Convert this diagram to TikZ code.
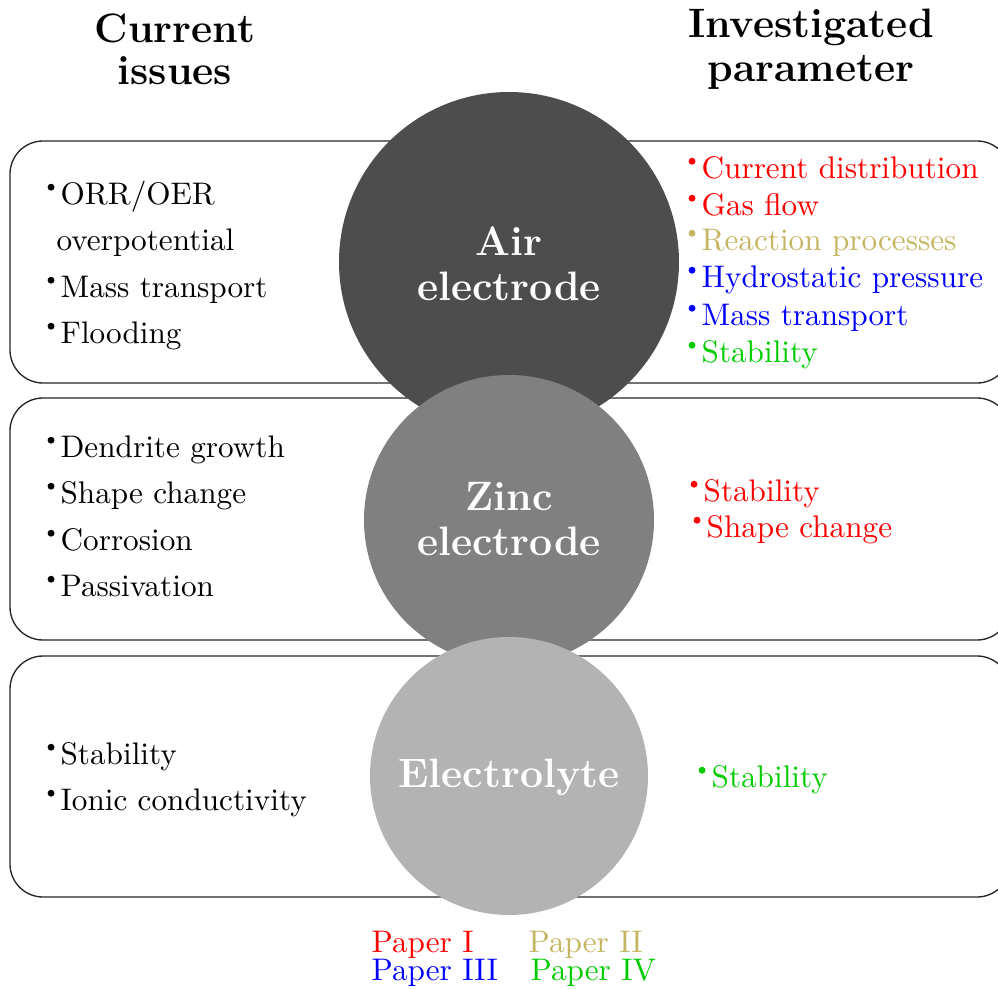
\documentclass[tikz,border=0pt]{standalone}
\usetikzlibrary{positioning}
\definecolor{airgray}{RGB}{77,77,77}
\definecolor{zincgray}{RGB}{128,128,128}
\definecolor{elecgray}{RGB}{179,179,179}
\definecolor{pI}{RGB}{255,0,0}
\definecolor{pII}{RGB}{196,181,96}
\definecolor{pIII}{RGB}{0,0,255}
\definecolor{pIV}{RGB}{0,204,0}
% small raised dot in front of each list entry
\newcommand{\bul}{\raisebox{4.45pt}{\tikz\fill (0,0) circle (1.15pt);}\hspace{2.05pt}}
\tikzset{
  panel/.style={draw=black!85, line width=0.45pt, rounded corners=11pt,
    minimum width=333.33pt, inner sep=0},
  disc/.style={circle, inner sep=0, draw=none},
  item/.style={anchor=base west, inner sep=0, font=\fontsize{10.4}{12}\selectfont},
  heading/.style={anchor=base, inner sep=0, font=\fontsize{13.7}{15}\selectfont\bfseries},
  disclabel/.style={anchor=base, inner sep=0, text=white,
    font=\fontsize{13.7}{15}\selectfont\bfseries},
}
\begin{document}
\begin{tikzpicture}[x=0.33333pt, y=-0.33333pt]
\useasboundingbox (0,0) rectangle (998,989);
\clip (0,0) rectangle (998,989);

% column headings
\node[heading] (hcur1) at (175,42) {Current};
\node[heading] (hcur2) at (175,85) {issues};
\node[heading] (hinv1) at (811,38) {Investigated};
\node[heading] (hinv2) at (811,81) {parameter};

% three panels, one per component
\node[panel, minimum height=80.67pt] (p1) at (510,262) {};
\node[panel, minimum height=80.67pt] (p2) at (510,519) {};
\node[panel, minimum height=80.33pt] (p3) at (510,776.5) {};

% component discs
\node[disc, fill=airgray, minimum size=113.33pt] (air) at (509,262) {};
\node[disc, fill=zincgray, minimum size=96.67pt] (zinc) at (509,520) {};
\node[disc, fill=elecgray, minimum size=92.67pt] (elec) at (509,776) {};

\node[disclabel] (airA) at (509,255) {Air};
\node[disclabel] (airB) at (509,300) {electrode};
\node[disclabel] (zincA) at (509,510) {Zinc};
\node[disclabel] (zincB) at (509,555) {electrode};
\node[disclabel] (elecA) at (509,787) {Electrolyte};

% current issues
\node[item] (i11) at (47,204) {\bul ORR/OER};
\node[item] (i12) at (56,250) {overpotential};
\node[item] (i13) at (47,297) {\bul Mass transport};
\node[item] (i14) at (47,343) {\bul Flooding};

\node[item] (i21) at (47,457) {\bul Dendrite growth};
\node[item] (i22) at (47,503) {\bul Shape change};
\node[item] (i23) at (47,550) {\bul Corrosion};
\node[item] (i24) at (47,596) {\bul Passivation};

\node[item] (i31) at (47,764) {\bul Stability};
\node[item] (i32) at (47,810) {\bul Ionic conductivity};

% investigated parameters
\node[item, text=pI]   (r11) at (688,178) {\bul Current distribution};
\node[item, text=pI]   (r12) at (688,215) {\bul Gas flow};
\node[item, text=pII]  (r13) at (688,250) {\bul Reaction processes};
\node[item, text=pIII] (r14) at (688,287) {\bul Hydrostatic pressure};
\node[item, text=pIII] (r15) at (688,325) {\bul Mass transport};
\node[item, text=pIV]  (r16) at (688,362) {\bul Stability};

\node[item, text=pI] (r21) at (690,501) {\bul Stability};
\node[item, text=pI] (r22) at (693,537) {\bul Shape change};

\node[item, text=pIV] (r31) at (698,787) {\bul Stability};

% legend
\node[item, text=pI]   (lg1) at (371,952) {Paper I};
\node[item, text=pII]  (lg2) at (528,952) {Paper II};
\node[item, text=pIII] (lg3) at (371,980) {Paper III};
\node[item, text=pIV]  (lg4) at (530,980) {Paper IV};
\end{tikzpicture}
\end{document}
